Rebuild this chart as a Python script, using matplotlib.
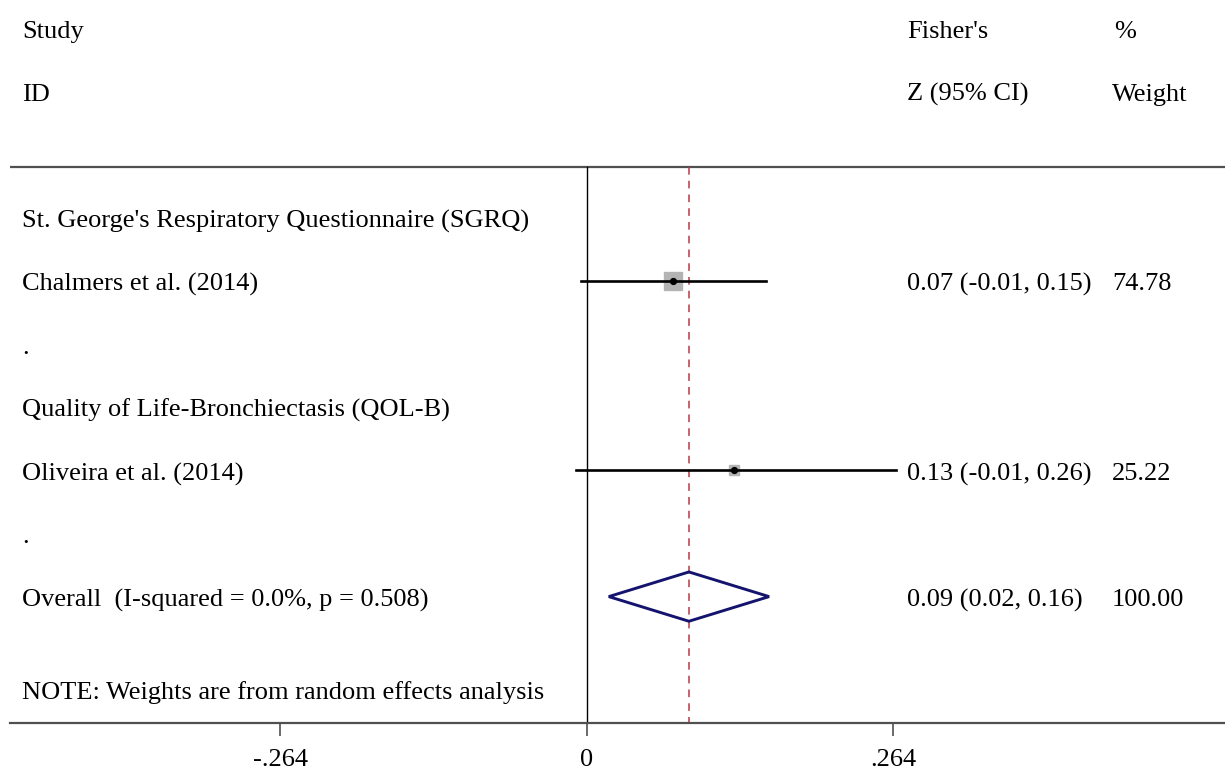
import matplotlib
matplotlib.use("Agg")
import matplotlib.pyplot as plt
from matplotlib.patches import Polygon

plt.rcParams['font.family'] = ['Liberation Serif', 'DejaVu Serif']

# study rows (label, estimate, lower, upper, weight)
row_labels = [
    "St. George's Respiratory Questionnaire (SGRQ)",
    "Chalmers et al. (2014)",
    ".",
    "Quality of Life-Bronchiectasis (QOL-B)",
    "Oliveira et al. (2014)",
    ".",
    "Overall  (I-squared = 0.0%, p = 0.508)",
]
study_rows = [1, 4]
study_est = [0.074, 0.127]
study_lo = [-0.005, -0.0095]
study_hi = [0.154, 0.266]
study_ci_text = ["0.07 (-0.01, 0.15)", "0.13 (-0.01, 0.26)"]
study_weight = [74.78, 25.22]

overall_row = 6
overall_est = 0.088
overall_lo = 0.019
overall_hi = 0.157
overall_ci_text = "0.09 (0.02, 0.16)"
overall_weight_text = "100.00"

xticks = [-0.264, 0, 0.264]
xtick_labels = ["-.264", "0", ".264"]

fig = plt.figure(figsize=(12.25, 7.69), dpi=100)
ax = fig.add_axes([10 / 1225, 1 - 723 / 769, 1 - 10 / 1225, 723 / 769])

ax.set_xlim(-0.4966, 0.5496)
ax.set_ylim(8.0, -3.44)

fs = 19
col_left = 0.0099
col_ci = 0.7383
col_w = 0.907
dy = 0.06  # nudge text down onto the row lines
tr = ax.get_yaxis_transform()


def label(x, y, s):
    ax.text(x, y + dy, s, transform=tr, fontsize=fs, va='center')


# header
label(col_left, -3, "Study")
label(col_left, -2, "ID")
label(col_ci, -3, "Fisher's")
label(col_ci, -2, "Z (95% CI)")
label(col_w + 0.002, -3, "%")
label(col_w, -2, "Weight")
ax.axhline(-0.79, color='#505050', lw=1.6)

for i, lab in enumerate(row_labels):
    label(col_left, i, lab)
label(col_left, 7.45, "NOTE: Weights are from random effects analysis")

# reference lines
ax.plot([0, 0], [-0.79, 8.0], color='black', lw=1.0)
ax.plot([overall_est, overall_est], [-0.79, 8.0], color='#b83848',
        lw=1.1, ls=(0, (5, 4)))

# studies: weight boxes, CIs and point estimates
for r, est, lo, hi, w, txt in zip(study_rows, study_est, study_lo, study_hi,
                                  study_weight, study_ci_text):
    ax.plot(est, r, marker='s', ms=12.5 * (w / 74.78) ** 0.5,
            color='#b4b4b4', mec='#b4b4b4', zorder=2)
    ax.plot([lo, hi], [r, r], color='black', lw=1.9, zorder=3)
    ax.plot(est, r, marker='o', ms=4.2, color='black', zorder=4)
    label(col_ci, r, txt)
    label(col_w, r, f"{w:.2f}")

# pooled diamond
dh = 0.39
diamond = Polygon([[overall_lo, overall_row], [overall_est, overall_row - dh],
                   [overall_hi, overall_row], [overall_est, overall_row + dh]],
                  closed=True, fill=False, edgecolor='#14146e', lw=2.1, zorder=5)
ax.add_patch(diamond)
label(col_ci, overall_row, overall_ci_text)
label(col_w, overall_row, overall_weight_text)

# x axis
for s in ['top', 'right', 'left']:
    ax.spines[s].set_visible(False)
ax.spines['bottom'].set_color('#505050')
ax.spines['bottom'].set_linewidth(1.6)
ax.set_yticks([])
ax.set_xticks(xticks)
ax.set_xticklabels(xtick_labels, fontsize=fs)
ax.tick_params(axis='x', length=9, width=1.2, color='#505050', pad=10)

fig.savefig("out.png", dpi=100)
